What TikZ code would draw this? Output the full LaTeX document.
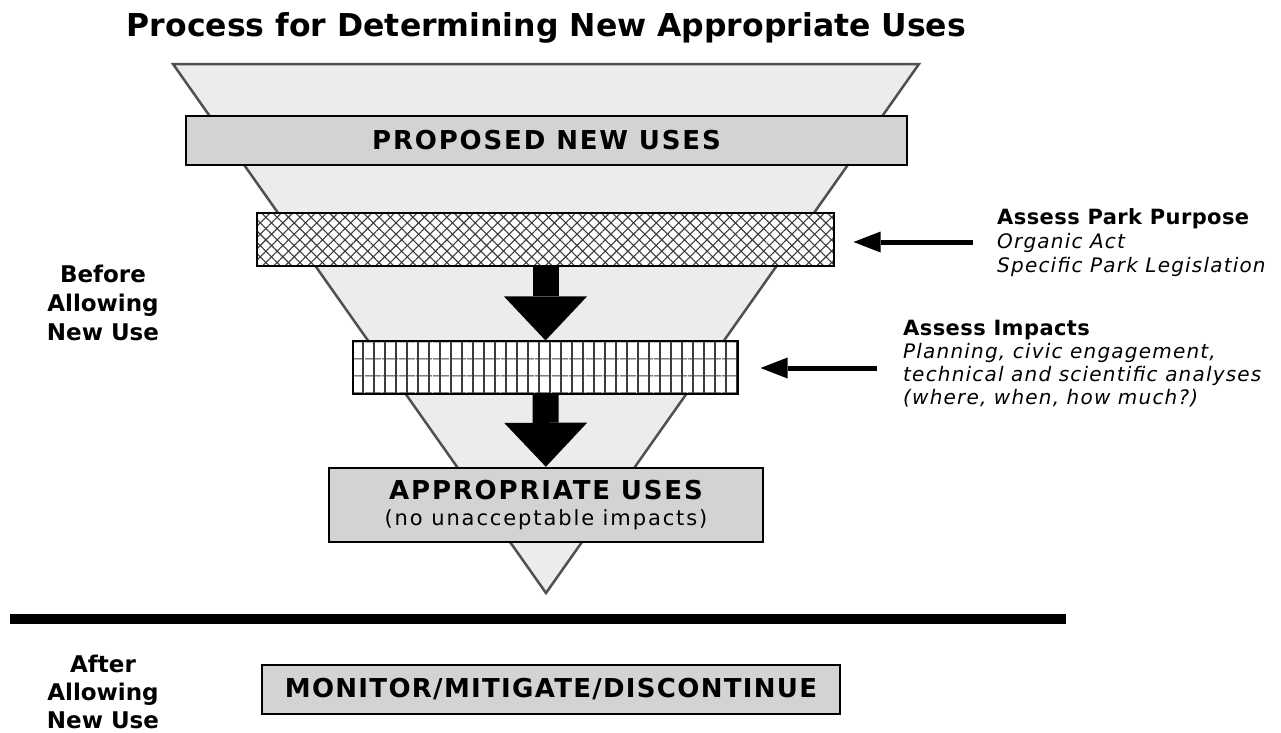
\documentclass[tikz,border=0pt]{standalone}
\usepackage{fontspec}
\setmainfont{DejaVu Sans}
\usetikzlibrary{arrows.meta,patterns.meta}
\definecolor{funnelgray}{HTML}{ECECEC}
\definecolor{boxgray}{HTML}{D3D3D3}
\definecolor{edgegray}{HTML}{505050}
\definecolor{hatchgray}{HTML}{3C3C3C}
\newcommand\boxfont{\fontsize{26}{30}\selectfont\bfseries\addfontfeature{LetterSpace=7}}

\begin{document}
\begin{tikzpicture}[x=1pt,y=-1pt,
    graybox/.style={draw,line width=2.5pt,fill=boxgray,inner sep=0pt},
    crossbox/.style={draw,line width=2.5pt,inner sep=0pt,
      preaction={fill=white},
      preaction={pattern={Lines[angle=45,distance=8pt,line width=1.1pt]},pattern color=hatchgray},
      pattern={Lines[angle=-45,distance=8pt,line width=1.1pt]},pattern color=hatchgray},
    gridbox/.style={draw,line width=2.5pt,inner sep=0pt,
      preaction={fill=white},
      preaction={pattern={Lines[angle=90,distance=11pt,line width=1.1pt]},pattern color=hatchgray},
      pattern={Lines[angle=0,distance=17pt,line width=1.1pt]},pattern color=hatchgray},
    bigarrow/.style={line width=26pt,-{Triangle[length=44pt,width=83pt,line width=0pt]}},
    sidearrow/.style={line width=5pt,-{Triangle[length=27pt,width=21pt,line width=0pt]}},
    label/.style={inner sep=0pt,align=left}]
  \useasboundingbox (0,0) rectangle (1281,732);

  \node[anchor=base,font=\fontsize{31.5}{34}\selectfont\bfseries] (TITLE) at (546.5,36) {Process for Determining New Appropriate Uses};

  % funnel
  \coordinate (TL) at (173,64);
  \coordinate (TR) at (919,64);
  \coordinate (APEX) at (546,593);
  \draw[draw=edgegray,line width=2.5pt,fill=funnelgray] (TL) -- (TR) -- (APEX) -- cycle;

  \node[graybox,minimum width=721pt,minimum height=49pt] (PROP) at (546.5,140.5) {\boxfont PROPOSED NEW USES};
  \node[crossbox,minimum width=577pt,minimum height=53pt] (PURP) at (545.5,239.5) {};
  \node[gridbox,minimum width=385pt,minimum height=53pt] (IMP) at (545.5,367.5) {};
  \node[graybox,align=center,minimum width=434pt,minimum height=74pt,
    font=\fontsize{21}{26}\selectfont\addfontfeature{LetterSpace=9}] (APPR) at (546,505)
    {{\boxfont APPROPRIATE USES}\\ (no unacceptable impacts)};

  \draw[bigarrow] (PURP) -- (IMP);
  \draw[bigarrow] (IMP) -- (APPR);

  % right side
  \node[label,anchor=base west,font=\fontsize{20}{24}\selectfont\addfontfeature{LetterSpace=6}] (PURPTXT) at (997,272)
    {\textbf{\fontsize{21}{24}\selectfont\addfontfeature{LetterSpace=2}Assess Park Purpose}\\ \itshape Organic Act\\ \itshape Specific Park Legislation};
  \node[label,anchor=base west,font=\fontsize{20}{23}\selectfont\addfontfeature{LetterSpace=6}] (IMPTXT) at (903,404)
    {\textbf{\fontsize{21}{23}\selectfont\addfontfeature{LetterSpace=2}Assess Impacts}\\ \itshape Planning, civic engagement,\\ \itshape technical and scientific analyses\\ \itshape (where, when, how much?)};
  \coordinate (PURPTAIL) at (973,242);
  \coordinate (IMPTAIL) at (877,368);
  \draw[sidearrow,shorten >=19pt] (PURPTAIL) -- (PURPTAIL -| PURP.east);
  \draw[sidearrow,shorten >=22pt] (IMPTAIL) -- (IMPTAIL -| IMP.east);

  % before / after
  \node[label,align=center,anchor=base,font=\fontsize{23}{29}\selectfont\bfseries] (BEFORE) at (103,340)
    {Before\\ Allowing\\ New Use};
  \coordinate (LINEL) at (10,619);
  \coordinate (LINER) at (1066,619);
  \draw[line width=10pt] (LINEL) -- (LINER);
  \node[label,align=center,anchor=base,font=\fontsize{23}{28}\selectfont\bfseries] (AFTER) at (103,728)
    {After\\ Allowing\\ New Use};
  \node[graybox,minimum width=578pt,minimum height=49pt,font=\fontsize{26}{30}\selectfont\bfseries\addfontfeature{LetterSpace=5}] (MON) at (551,689.5)
    {MONITOR/MITIGATE/DISCONTINUE};
\end{tikzpicture}
\end{document}
